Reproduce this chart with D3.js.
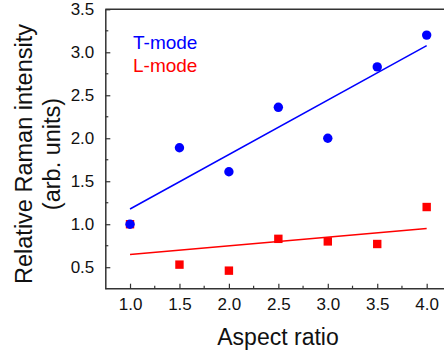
<!DOCTYPE html>
<html><head><meta charset="utf-8">
<script src="https://cdn.jsdelivr.net/npm/d3@7"></script>
<style>body{margin:0;background:#fff;} svg{display:block;}</style>
</head><body>
<script>
const aspectRatio = [1.0, 1.5, 2.0, 2.5, 3.0, 3.5, 4.0];
const tMode = [1.0, 1.89, 1.61, 2.36, 2.0, 2.83, 3.20];
const lMode = [1.0, 0.53, 0.46, 0.83, 0.80, 0.77, 1.20];
const xTicks = [1.0, 1.5, 2.0, 2.5, 3.0, 3.5, 4.0];
const yTicks = [0.5, 1.0, 1.5, 2.0, 2.5, 3.0, 3.5];
const seriesNames = ["T-mode", "L-mode"];

const W = 444, H = 356;
const svg = d3.select("body").append("svg").attr("width", W).attr("height", H);
const font = "'Liberation Sans', Arial, sans-serif";
const x = d3.scaleLinear().domain([0.75, 4.25]).range([105.3, 451.4]);
const y = d3.scaleLinear().domain([0.25, 3.5]).range([288.7, 9.3]);
const axisColor = "#333";

function fit(xs, ys) {
  const n = xs.length, mx = d3.mean(xs), my = d3.mean(ys);
  let sxy = 0, sxx = 0;
  for (let i = 0; i < n; i++) { sxy += (xs[i]-mx)*(ys[i]-my); sxx += (xs[i]-mx)**2; }
  const b = sxy/sxx; return [my - b*mx, b];
}

// top frame line
svg.append("line").attr("x1", x(0.75)).attr("x2", W+10).attr("y1", y(3.5)).attr("y2", y(3.5))
  .attr("stroke", axisColor).attr("stroke-width", 1.5);

// x axis
const xMinor = d3.range(1.25, 4.3, 0.5);
const xAxis = d3.axisBottom(x).tickValues(xTicks).tickFormat(d3.format(".1f")).tickSizeInner(-5).tickSizeOuter(0).tickPadding(9);
const gx = svg.append("g").attr("transform", `translate(0,${y(0.25)})`).call(xAxis);
gx.selectAll(".tick line").attr("stroke", axisColor).attr("stroke-width", 1.2);
gx.select(".domain").attr("stroke", axisColor).attr("stroke-width", 1.5).attr("d", `M${x(0.75)},0H${W+10}`);
gx.selectAll("text").attr("font-family", font).attr("font-size", 17).attr("fill", "#111");
gx.selectAll(".minor").data(xMinor).enter().append("line").attr("class","minor")
  .attr("x1", d => x(d)).attr("x2", d => x(d)).attr("y1", 0).attr("y2", -3)
  .attr("stroke", axisColor).attr("stroke-width", 1.2);

// y axis
const yMinor = d3.range(0.75, 3.5, 0.5);
const yAxis = d3.axisLeft(y).tickValues(yTicks).tickFormat(d3.format(".1f")).tickSizeInner(-5).tickSizeOuter(0).tickPadding(11);
const gy = svg.append("g").attr("transform", `translate(${x(0.75)},0)`).call(yAxis);
gy.selectAll(".tick line").attr("stroke", axisColor).attr("stroke-width", 1.2);
gy.select(".domain").attr("stroke", axisColor).attr("stroke-width", 1.5);
gy.selectAll("text").attr("font-family", font).attr("font-size", 17).attr("fill", "#111");
gy.selectAll(".minor").data(yMinor).enter().append("line").attr("class","minor")
  .attr("y1", d => y(d)).attr("y2", d => y(d)).attr("x1", 0).attr("x2", 3)
  .attr("stroke", axisColor).attr("stroke-width", 1.2);

// axis titles
svg.append("text").attr("x", 278).attr("y", 345).attr("text-anchor", "middle")
  .attr("font-family", font).attr("font-size", 23).attr("fill", "#111").text("Aspect ratio");
const yt = svg.append("text").attr("transform", "translate(32,154) rotate(-90)")
  .attr("text-anchor", "middle").attr("font-family", font).attr("font-size", 23.5).attr("fill", "#111");
yt.append("tspan").attr("x", 0).attr("y", 0).text("Relative Raman intensity");
yt.append("tspan").attr("x", 0).attr("y", 28).text("(arb. units)");

const blue = "#0000ff", red = "#ff0000";
const xr = [1.0, 4.0];
const [la, lb] = fit(aspectRatio, lMode);
const [ta, tb] = fit(aspectRatio, tMode);

// L-mode
svg.append("line").attr("x1", x(xr[0])).attr("x2", x(xr[1]))
  .attr("y1", y(la + lb*xr[0])).attr("y2", y(la + lb*xr[1])).attr("stroke", red).attr("stroke-width", 1.5);
svg.selectAll(".sq").data(aspectRatio).enter().append("rect").attr("class","sq")
  .attr("x", (d) => x(d) - 4.2).attr("y", (d, i) => y(lMode[i]) - 4.2)
  .attr("width", 8.4).attr("height", 8.4).attr("fill", red);

// T-mode
svg.append("line").attr("x1", x(xr[0])).attr("x2", x(xr[1]))
  .attr("y1", y(ta + tb*xr[0])).attr("y2", y(ta + tb*xr[1])).attr("stroke", blue).attr("stroke-width", 1.5);
svg.selectAll(".ci").data(aspectRatio).enter().append("circle").attr("class","ci")
  .attr("cx", d => x(d)).attr("cy", (d, i) => y(tMode[i])).attr("r", 4.7).attr("fill", blue);

// legend
svg.append("text").attr("x", 133).attr("y", 48.5).attr("font-family", font).attr("font-size", 19)
  .attr("fill", blue).text(seriesNames[0]);
svg.append("text").attr("x", 133).attr("y", 72).attr("font-family", font).attr("font-size", 19)
  .attr("fill", red).text(seriesNames[1]);
</script>
</body></html>
